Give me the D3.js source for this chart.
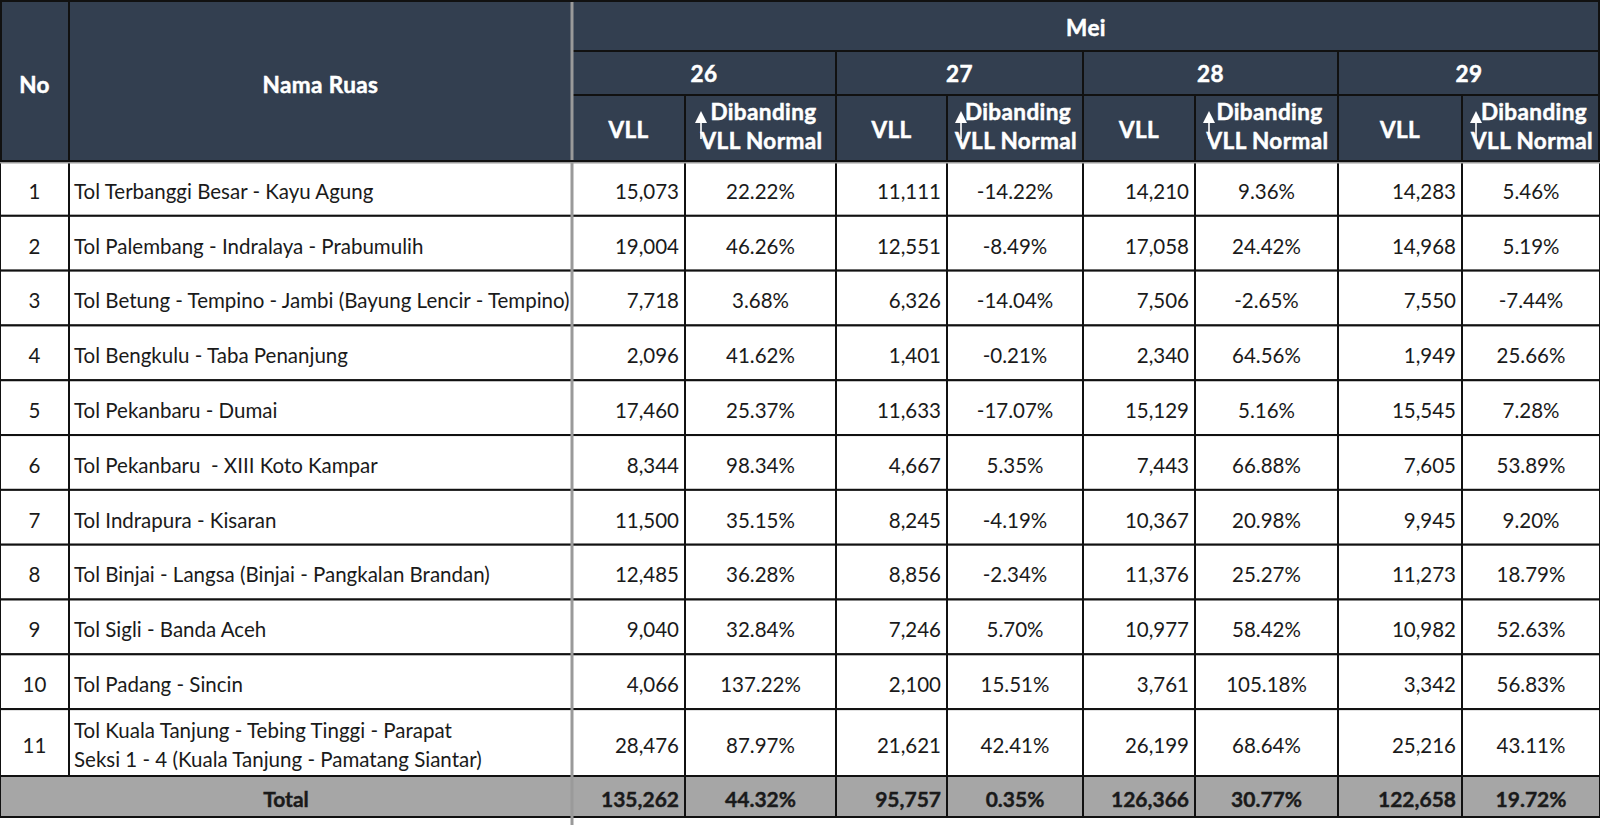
<!DOCTYPE html>
<html>
<head>
<meta charset="utf-8">
<script src="https://cdnjs.cloudflare.com/ajax/libs/d3/7.8.5/d3.min.js"></script>
<style>
  body { margin: 0; background: #fff; }
  text { font-family: Lato, "Open Sans", sans-serif; white-space: pre; }
</style>
</head>
<body>
<svg id="canvas"></svg>
<script>
let rowNo = [1, 2, 3, 4, 5, 6, 7, 8, 9, 10, 11]
let ruas = [
  ["Tol Terbanggi Besar - Kayu Agung"],
  ["Tol Palembang - Indralaya - Prabumulih"],
  ["Tol Betung - Tempino - Jambi (Bayung Lencir - Tempino)"],
  ["Tol Bengkulu - Taba Penanjung"],
  ["Tol Pekanbaru - Dumai"],
  ["Tol Pekanbaru  - XIII Koto Kampar"],
  ["Tol Indrapura - Kisaran"],
  ["Tol Binjai - Langsa (Binjai - Pangkalan Brandan)"],
  ["Tol Sigli - Banda Aceh"],
  ["Tol Padang - Sincin"],
  ["Tol Kuala Tanjung - Tebing Tinggi - Parapat", "Seksi 1 - 4 (Kuala Tanjung - Pamatang Siantar)"]
]
let month = "Mei"
let days = ["26", "27", "28", "29"]

let vll26 = [15073, 19004, 7718, 2096, 17460, 8344, 11500, 12485, 9040, 4066, 28476]
let pct26 = [22.22, 46.26, 3.68, 41.62, 25.37, 98.34, 35.15, 36.28, 32.84, 137.22, 87.97]
let vll27 = [11111, 12551, 6326, 1401, 11633, 4667, 8245, 8856, 7246, 2100, 21621]
let pct27 = [-14.22, -8.49, -14.04, -0.21, -17.07, 5.35, -4.19, -2.34, 5.70, 15.51, 42.41]
let vll28 = [14210, 17058, 7506, 2340, 15129, 7443, 10367, 11376, 10977, 3761, 26199]
let pct28 = [9.36, 24.42, -2.65, 64.56, 5.16, 66.88, 20.98, 25.27, 58.42, 105.18, 68.64]
let vll29 = [14283, 14968, 7550, 1949, 15545, 7605, 9945, 11273, 10982, 3342, 25216]
let pct29 = [5.46, 5.19, -7.44, 25.66, 7.28, 53.89, 9.20, 18.79, 52.63, 56.83, 43.11]

let totalVll = [135262, 95757, 126366, 122658]
let totalPct = [44.32, 0.35, 30.77, 19.72]

let vllByDay = [vll26, vll27, vll28, vll29]
let pctByDay = [pct26, pct27, pct28, pct29]

let width = 1600
let height = 825

let headDark = '#333f50'
let totalGray = '#a6a6a6'
let lineGray = '#9a9a9a'

// plain hyphen for negatives, like the spreadsheet
let locale = d3.formatLocale({ decimal: '.', thousands: ',', grouping: [3], currency: ['', ''], minus: '-' })
let fmtNum = locale.format(',')
let fmtPct = (v) => locale.format('.2f')(v) + '%'

let canvas = d3.select('#canvas')
               .attr('width', width)
               .attr('height', height)

// column layout
let colKeys = ['no', 'ruas']
days.forEach(d => { colKeys.push('v' + d); colKeys.push('p' + d) })
let colEdges = [0, 69, 572, 685, 836, 947, 1083, 1195, 1338, 1462, 1600]

let xScale = d3.scaleOrdinal().domain(colKeys).range(colEdges.slice(0, -1))
let wScale = d3.scaleOrdinal().domain(colKeys).range(d3.pairs(colEdges).map(p => p[1] - p[0]))

// header band rows
let headTop = 0, headMid1 = 51, headMid2 = 95, headBottom = 161

// body rows: unit height per line count
let rowUnits = ruas.map(r => r.length > 1 ? 1.22 : 1)
let cumUnits = [0]
rowUnits.forEach(u => cumUnits.push(cumUnits[cumUnits.length - 1] + u))
let yScale = d3.scaleLinear()
               .domain([0, cumUnits[cumUnits.length - 1]])
               .range([headBottom, 776])
let totalTop = 776, totalBottom = 817

let dayStart = (i) => xScale('v' + days[i])
let dayEnd = (i) => xScale('p' + days[i]) + wScale('p' + days[i])

// ---------- header ----------
let header = canvas.append('g').attr('id', 'header')

header.append('rect')
      .attr('x', 0).attr('y', headTop)
      .attr('width', width).attr('height', headBottom - headTop)
      .attr('fill', headDark)

let headLines = []
headLines.push([xScale('ruas'), headTop, xScale('ruas'), headBottom])
headLines.push([xScale('v26'), headMid1, width, headMid1])
headLines.push([xScale('v26'), headMid2, width, headMid2])
days.forEach((d, i) => {
  if (i > 0) headLines.push([dayStart(i), headMid1, dayStart(i), headBottom])
  headLines.push([xScale('p' + d), headMid2, xScale('p' + d), headBottom])
})

header.selectAll('line.hl')
      .data(headLines)
      .enter()
      .append('line')
      .attr('class', 'hl')
      .attr('x1', d => d[0]).attr('y1', d => d[1])
      .attr('x2', d => d[2]).attr('y2', d => d[3])
      .attr('stroke', '#111')
      .attr('stroke-width', 2)

let headText = (x, y, txt) => {
  header.append('text')
        .attr('x', x).attr('y', y)
        .attr('dy', '0.36em')
        .attr('text-anchor', 'middle')
        .attr('fill', '#fff')
        .attr('stroke', '#fff')
        .attr('stroke-width', 0.5)
        .attr('font-weight', 700)
        .attr('font-size', 22.5)
        .attr('letter-spacing', 0.4)
        .text(txt)
}

headText(xScale('no') + wScale('no') / 2, 85, 'No')
headText(xScale('ruas') + wScale('ruas') / 2, 85, 'Nama Ruas')
headText((xScale('v26') + width) / 2, 28, month)
days.forEach((d, i) => {
  headText((dayStart(i) + dayEnd(i)) / 2, 74, d)
  headText(xScale('v' + d) + wScale('v' + d) / 2, 130, 'VLL')
  let pc = xScale('p' + d) + wScale('p' + d) / 2
  headText(pc + 3, 112, 'Dibanding')
  headText(pc + 1, 141, 'VLL Normal')

  // small arrow icon
  let ax = xScale('p' + d) + (i === 0 ? 16 : 14)
  header.append('path')
        .attr('d', `M${ax - 6},123 L${ax + 6},123 L${ax},111 Z`)
        .attr('fill', '#fff')
  header.append('line')
        .attr('x1', ax).attr('y1', 122)
        .attr('x2', ax).attr('y2', 139)
        .attr('stroke', '#fff')
        .attr('stroke-width', 1.6)
})

// ---------- body ----------
let body = canvas.append('g').attr('id', 'body')

let cells = []
rowNo.forEach((n, r) => {
  let y0 = yScale(cumUnits[r]), y1 = yScale(cumUnits[r + 1])
  cells.push({ key: 'no', y0, y1, lines: [String(n)], anchor: 'middle' })
  cells.push({ key: 'ruas', y0, y1, lines: ruas[r], anchor: 'start' })
  days.forEach((d, i) => {
    cells.push({ key: 'v' + d, y0, y1, lines: [fmtNum(vllByDay[i][r])], anchor: 'end' })
    cells.push({ key: 'p' + d, y0, y1, lines: [fmtPct(pctByDay[i][r])], anchor: 'middle' })
  })
})

// total row
let totalCells = [{ x0: 0, x1: xScale('v26'), lines: ['Total'], anchor: 'middle' }]
days.forEach((d, i) => {
  totalCells.push({ key: 'v' + d, lines: [fmtNum(totalVll[i])], anchor: 'end' })
  totalCells.push({ key: 'p' + d, lines: [fmtPct(totalPct[i])], anchor: 'middle' })
})
totalCells.forEach(c => {
  if (c.key) { c.x0 = xScale(c.key); c.x1 = c.x0 + wScale(c.key) }
  c.y0 = totalTop; c.y1 = totalBottom; c.bold = true
})
cells.forEach(c => { c.x0 = xScale(c.key); c.x1 = c.x0 + wScale(c.key) })

let allCells = cells.concat(totalCells)

body.selectAll('rect.cell')
    .data(allCells)
    .enter()
    .append('rect')
    .attr('class', 'cell')
    .attr('x', d => d.x0).attr('y', d => d.y0)
    .attr('width', d => d.x1 - d.x0).attr('height', d => d.y1 - d.y0)
    .attr('fill', d => d.bold ? totalGray : '#fff')
    .attr('stroke', '#111')
    .attr('stroke-width', 2)

let textX = (d) => {
  if (d.anchor === 'start') return d.x0 + 5
  if (d.anchor === 'end') return d.x1 - 6
  return (d.x0 + d.x1) / 2
}

body.selectAll('text.cell')
    .data(allCells)
    .enter()
    .append('text')
    .attr('class', 'cell')
    .attr('text-anchor', d => d.anchor)
    .attr('font-size', d => d.bold ? 21 : 20.5)
    .attr('font-weight', d => d.bold ? 700 : 400)
    .attr('fill', '#1a1a1a')
    .attr('stroke', d => d.bold ? '#1a1a1a' : 'none')
    .attr('stroke-width', 0.4)
    .each(function (d) {
      let cy = (d.y0 + d.y1) / 2 + 3
      let gap = 29
      let n = d.lines.length
      d3.select(this).selectAll('tspan')
        .data(d.lines)
        .enter()
        .append('tspan')
        .attr('x', textX(d))
        .attr('y', (l, i) => cy + (i - (n - 1) / 2) * gap)
        .attr('dy', '0.36em')
        .text(l => l)
    })

// grey separators: under header and after the name column
canvas.append('line')
      .attr('x1', 0).attr('y1', headBottom + 1)
      .attr('x2', width).attr('y2', headBottom + 1)
      .attr('stroke', lineGray)
      .attr('stroke-width', 3)

canvas.append('line')
      .attr('x1', xScale('v26')).attr('y1', 0)
      .attr('x2', xScale('v26')).attr('y2', height)
      .attr('stroke', lineGray)
      .attr('stroke-width', 3)

// outer frame of header
canvas.append('rect')
      .attr('x', 1).attr('y', 1)
      .attr('width', width - 2).attr('height', headBottom - 1)
      .attr('fill', 'none')
      .attr('stroke', '#111')
      .attr('stroke-width', 2)
</script>
</body>
</html>
